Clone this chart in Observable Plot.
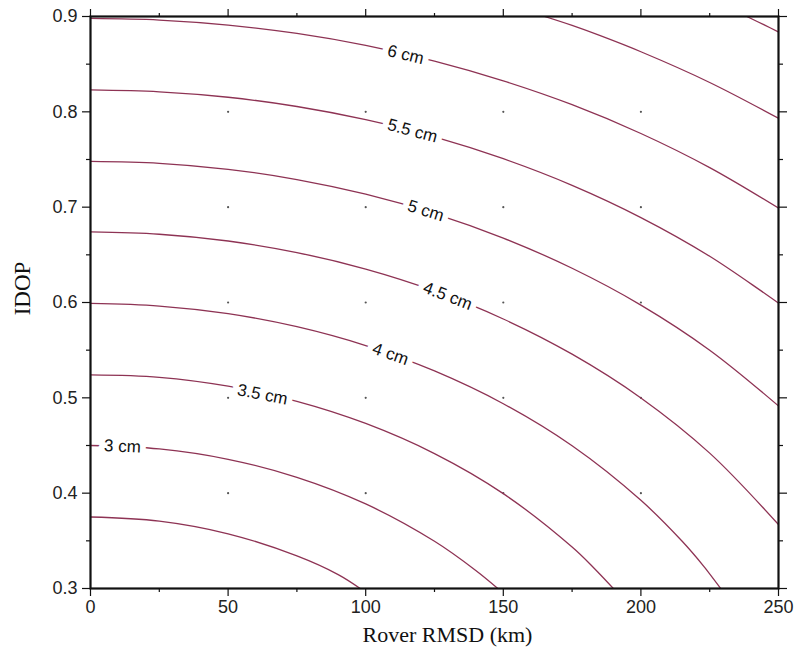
<!DOCTYPE html>
<html>
<head>
<meta charset="utf-8">
<script src="https://cdn.jsdelivr.net/npm/d3@7"></script>
<script src="https://cdn.jsdelivr.net/npm/@observablehq/plot@0.6"></script>
<style>
  html, body { margin: 0; padding: 0; background: #fff; }
  #chart svg { display: block; }
</style>
</head>
<body>
<div id="chart"></div>
<script>
// Contour lines (Rover RMSD km, IDOP), one array per level
const level25 = [[0,0.375],[25,0.3707],[50,0.3574],[75,0.3342],[90,0.3146],[98,0.300]];
const level30 = [[0,0.450],[25,0.4464],[50,0.4355],[75,0.4166],[100,0.3887],[125,0.3495],[140,0.3189],[148,0.300]];
const level35 = [[0,0.524],[25,0.5215],[50,0.5122],[75,0.4963],[100,0.4731],[125,0.4415],[150,0.3995],[175,0.3435],[183,0.3213],[190,0.300]];
const level40 = [[0,0.599],[25,0.5963],[50,0.5883],[75,0.5746],[100,0.5548],[125,0.5282],[150,0.4938],[175,0.4497],[200,0.3925],[215,0.3495],[223,0.3227],[229,0.300]];
const level45 = [[0,0.674],[25,0.6716],[50,0.6645],[75,0.6524],[100,0.6351],[125,0.6121],[150,0.5827],[175,0.5458],[200,0.4999],[225,0.4420],[250,0.3670]];
const level50 = [[0,0.748],[25,0.7460],[50,0.7397],[75,0.7290],[100,0.7136],[125,0.6933],[150,0.6676],[175,0.6359],[200,0.5973],[225,0.5500],[250,0.4915]];
const level55 = [[0,0.823],[25,0.8210],[50,0.8153],[75,0.8056],[100,0.7918],[125,0.7737],[150,0.7508],[175,0.7229],[200,0.6891],[225,0.6485],[250,0.5993]];
const level60 = [[0,0.898],[25,0.8963],[50,0.8910],[75,0.8822],[100,0.8697],[125,0.8532],[150,0.8325],[175,0.8075],[200,0.7773],[225,0.7415],[250,0.6990]];
const level65 = [[165,0.900],[175,0.8906],[185,0.8801],[200,0.8630],[225,0.8308],[250,0.7932]];
const level70 = [[238.5,0.900],[245,0.8909],[250,0.8838]];

// Contour labels
const labelText  = ["3 cm", "3.5 cm", "4 cm", "4.5 cm", "5 cm", "5.5 cm", "6 cm"];
const labelX     = [11.6, 62.5, 109, 129.8, 121.8, 117, 114.5];
const labelY     = [0.449, 0.5035, 0.5460, 0.6068, 0.6962, 0.7800, 0.8600];
const labelAngle = [2.6, 11, 19.6, 20.9, 17.3, 15, 13.3];

// Grid dots
const dotX = [50, 100, 150, 200];
const dotY = [0.4, 0.5, 0.6, 0.7, 0.8];

// Ticks
const xMajor = [0, 50, 100, 150, 200, 250];
const xMinor = [25, 75, 125, 175, 225];
const yMajor = [0.3, 0.4, 0.5, 0.6, 0.7, 0.8, 0.9];
const yMinor = [0.35, 0.45, 0.55, 0.65, 0.75, 0.85];

const xTitle = "Rover RMSD (km)";
const yTitle = "IDOP";

const levels = [level25, level30, level35, level40, level45, level50, level55, level60, level65, level70];
const lineRows = levels.flatMap((pts, i) => pts.map(([x, y]) => ({level: i, x, y})));
const labelRows = labelText.map((t, i) => ({text: t, x: labelX[i], y: labelY[i], angle: labelAngle[i]}));
const dotRows = dotX.flatMap(x => dotY.map(y => ({x, y})));

const lineColor = "#8e3354";
const blank = () => "";
const tickStyle = {stroke: "#111", strokeWidth: 1.2, label: null};
const serif = "'Liberation Serif', 'Times New Roman', serif";

const chart = Plot.plot({
  width: 796,
  height: 666,
  marginLeft: 90,
  marginRight: 18,
  marginTop: 16,
  marginBottom: 78,
  style: {fontFamily: "'Liberation Sans', Arial, sans-serif", background: "white"},
  x: {domain: [0, 250]},
  y: {domain: [0.3, 0.9]},
  marks: [
    Plot.dot(dotRows, {x: "x", y: "y", r: 1.1, fill: "#555", stroke: null}),
    Plot.line(lineRows, {x: "x", y: "y", z: "level", stroke: lineColor, strokeWidth: 1.3, curve: "catmull-rom", clip: true}),
    Plot.text(labelRows, {
      x: "x", y: "y", text: "text", rotate: "angle",
      fontSize: 17, fill: "#111", stroke: "white", strokeWidth: 12,
      paintOrder: "stroke", strokeLinejoin: "round"
    }),
    Plot.frame({stroke: "#111", strokeWidth: 2.2}),
    // bottom axis
    Plot.axisX({anchor: "bottom", ticks: xMajor, tickSize: 8, tickPadding: 4, fontSize: 18, fill: "#222", ...tickStyle, tickFormat: d => d}),
    Plot.axisX({anchor: "bottom", ticks: xMinor, tickSize: 4, ...tickStyle, tickFormat: blank}),
    // top axis
    Plot.axisX({anchor: "top", ticks: xMajor, tickSize: 8, ...tickStyle, tickFormat: blank}),
    Plot.axisX({anchor: "top", ticks: xMinor, tickSize: 4, ...tickStyle, tickFormat: blank}),
    // left axis
    Plot.axisY({anchor: "left", ticks: yMajor, tickSize: 8, tickPadding: 5, fontSize: 18, fill: "#222", ...tickStyle, tickFormat: d3.format(".1f")}),
    Plot.axisY({anchor: "left", ticks: yMinor, tickSize: 4, ...tickStyle, tickFormat: blank}),
    // right axis
    Plot.axisY({anchor: "right", ticks: yMajor, tickSize: 8, ...tickStyle, tickFormat: blank}),
    Plot.axisY({anchor: "right", ticks: yMinor, tickSize: 4, ...tickStyle, tickFormat: blank}),
    // axis titles
    Plot.text([xTitle], {frameAnchor: "bottom", dx: 13, dy: 38, textAnchor: "middle", lineAnchor: "top", text: d => d, fontFamily: serif, fontSize: 22, fill: "#111"}),
    Plot.text([yTitle], {frameAnchor: "left", dx: -68, dy: -14, textAnchor: "middle", lineAnchor: "middle", rotate: -90, text: d => d, fontFamily: serif, fontSize: 23, fill: "#111"})
  ]
});
document.getElementById("chart").appendChild(chart);
</script>
</body>
</html>
